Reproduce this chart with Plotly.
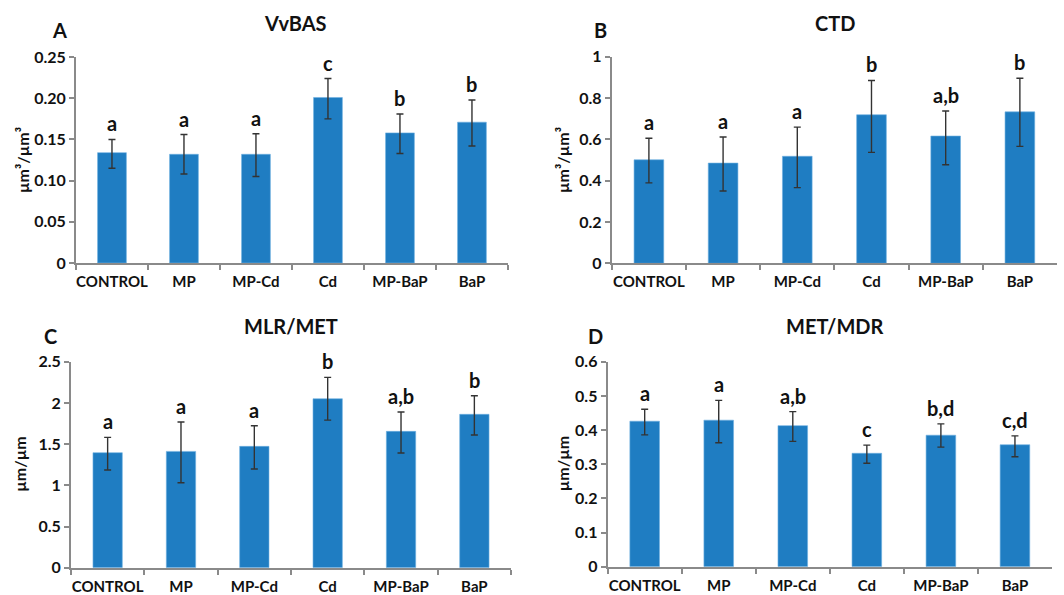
import plotly.graph_objects as go

categories = ["CONTROL", "MP", "MP-Cd", "Cd", "MP-BaP", "BaP"]

vvbas_mean = [0.134, 0.132, 0.132, 0.201, 0.158, 0.171]
vvbas_up = [0.016, 0.024, 0.025, 0.023, 0.023, 0.027]
vvbas_dn = [0.019, 0.024, 0.027, 0.026, 0.025, 0.029]
vvbas_letters = ["a", "a", "a", "c", "b", "b"]

ctd_mean = [0.501, 0.485, 0.518, 0.719, 0.616, 0.733]
ctd_up = [0.104, 0.126, 0.141, 0.166, 0.121, 0.163]
ctd_dn = [0.112, 0.135, 0.152, 0.182, 0.139, 0.167]
ctd_letters = ["a", "a", "a", "b", "a,b", "b"]

mlr_mean = [1.396, 1.412, 1.473, 2.051, 1.655, 1.862]
mlr_up = [0.186, 0.356, 0.250, 0.260, 0.235, 0.225]
mlr_dn = [0.210, 0.381, 0.275, 0.259, 0.263, 0.252]
mlr_letters = ["a", "a", "a", "b", "a,b", "b"]

met_mean = [0.426, 0.429, 0.413, 0.332, 0.385, 0.357]
met_up = [0.035, 0.058, 0.041, 0.024, 0.033, 0.026]
met_dn = [0.040, 0.066, 0.046, 0.029, 0.035, 0.035]
met_letters = ["a", "a", "a,b", "c", "b,d", "c,d"]

titles = ["VvBAS", "CTD", "MLR/MET", "MET/MDR"]
panel_labels = ["A", "B", "C", "D"]
y_titles = ["µm³/µm³", "µm³/µm³", "µm/µm", "µm/µm"]
y_ranges = [0.25, 1.0, 2.5, 0.6]
y_tickvals = [
    [0, 0.05, 0.10, 0.15, 0.20, 0.25],
    [0, 0.2, 0.4, 0.6, 0.8, 1.0],
    [0, 0.5, 1.0, 1.5, 2.0, 2.5],
    [0, 0.1, 0.2, 0.3, 0.4, 0.5, 0.6],
]
y_ticktext = [
    ["0", "0.05", "0.10", "0.15", "0.20", "0.25"],
    ["0", "0.2", "0.4", "0.6", "0.8", "1"],
    ["0", "0.5", "1", "1.5", "2", "2.5"],
    ["0", "0.1", "0.2", "0.3", "0.4", "0.5", "0.6"],
]

means = [vvbas_mean, ctd_mean, mlr_mean, met_mean]
ups = [vvbas_up, ctd_up, mlr_up, met_up]
dns = [vvbas_dn, ctd_dn, mlr_dn, met_dn]
letters = [vvbas_letters, ctd_letters, mlr_letters, met_letters]

x_domains = [[0.0714, 0.4774], [0.5750, 0.9934], [0.0667, 0.4803], [0.5711, 0.9887]]
y_domains = [[0.558, 0.904], [0.5575, 0.9047], [0.0459, 0.392], [0.0476, 0.392]]

FONT = "Lato, 'Open Sans', Arial, sans-serif"
BAR = "#1f7dc2"
AX = "#8a8a8a"

fig = go.Figure()
annotations = []
layout = {}

for i in range(4):
    n = "" if i == 0 else str(i + 1)
    xa, ya = "x" + n, "y" + n
    fig.add_trace(go.Bar(
        x=categories, y=means[i], xaxis=xa, yaxis=ya,
        width=0.4,
        marker=dict(color=BAR, line=dict(color="#6fb0e0", width=0.6)),
        error_y=dict(type="data", symmetric=False, array=ups[i], arrayminus=dns[i],
                     color="#333333", thickness=1.4, width=3.5),
        showlegend=False, hoverinfo="skip",
    ))
    for c, m, u, lab in zip(categories, means[i], ups[i], letters[i]):
        annotations.append(dict(
            x=c, y=m + u, xref=xa, yref=ya, text="<b>%s</b>" % lab,
            showarrow=False, yanchor="bottom", yshift=2,
            font=dict(family=FONT, size=20, color="#111111"),
        ))
    layout["xaxis" + n] = dict(
        domain=x_domains[i], anchor=ya, type="category",
        tickvals=categories, ticktext=["<b>%s</b>" % c for c in categories],
        tickangle=0, automargin=False, ticklabelstandoff=4,
        showline=True, linecolor=AX, linewidth=2,
        ticks="outside", tickson="boundaries", ticklen=5, tickcolor=AX, tickwidth=1.5,
        tickfont=dict(family=FONT, size=15, color="#111111"),
        showgrid=False, zeroline=False, fixedrange=True,
    )
    layout["yaxis" + n] = dict(
        domain=y_domains[i], anchor=xa, range=[0, y_ranges[i]],
        tickvals=y_tickvals[i], ticktext=["<b>%s</b>" % t for t in y_ticktext[i]],
        automargin=False,
        showline=True, linecolor=AX, linewidth=2,
        ticks="outside", ticklen=5, tickcolor=AX, tickwidth=1.5,
        tickfont=dict(family=FONT, size=16, color="#111111"),
        showgrid=False, zeroline=False, fixedrange=True,
    )

# titles, panel letters and y-axis titles (paper coordinates)
title_pos = [(295, 23), (835, 23), (291, 326), (835, 326)]
label_pos = [(59, 30), (600, 30), (50, 336), (595, 336)]
ytitle_x = [22, 563, 20, 562]
for i in range(4):
    tx, ty = title_pos[i]
    annotations.append(dict(
        x=tx / 1064, y=1 - ty / 595, xref="paper", yref="paper",
        text="<b>%s</b>" % titles[i], showarrow=False, xanchor="center", yanchor="middle",
        font=dict(family=FONT, size=20, color="#111111"),
    ))
    lx, ly = label_pos[i]
    annotations.append(dict(
        x=lx / 1064, y=1 - ly / 595, xref="paper", yref="paper",
        text="<b>%s</b>" % panel_labels[i], showarrow=False, xanchor="center", yanchor="middle",
        font=dict(family=FONT, size=20, color="#111111"),
    ))
    annotations.append(dict(
        x=ytitle_x[i] / 1064, y=sum(y_domains[i]) / 2, xref="paper", yref="paper",
        text="<b>%s</b>" % y_titles[i], showarrow=False, textangle=-90,
        xanchor="center", yanchor="middle",
        font=dict(family=FONT, size=16, color="#111111"),
    ))

fig.update_layout(
    width=1064, height=595,
    margin=dict(l=0, r=0, t=0, b=0, autoexpand=False),
    plot_bgcolor="white", paper_bgcolor="white",
    annotations=annotations,
    **layout,
)

fig.write_html("out.html")
